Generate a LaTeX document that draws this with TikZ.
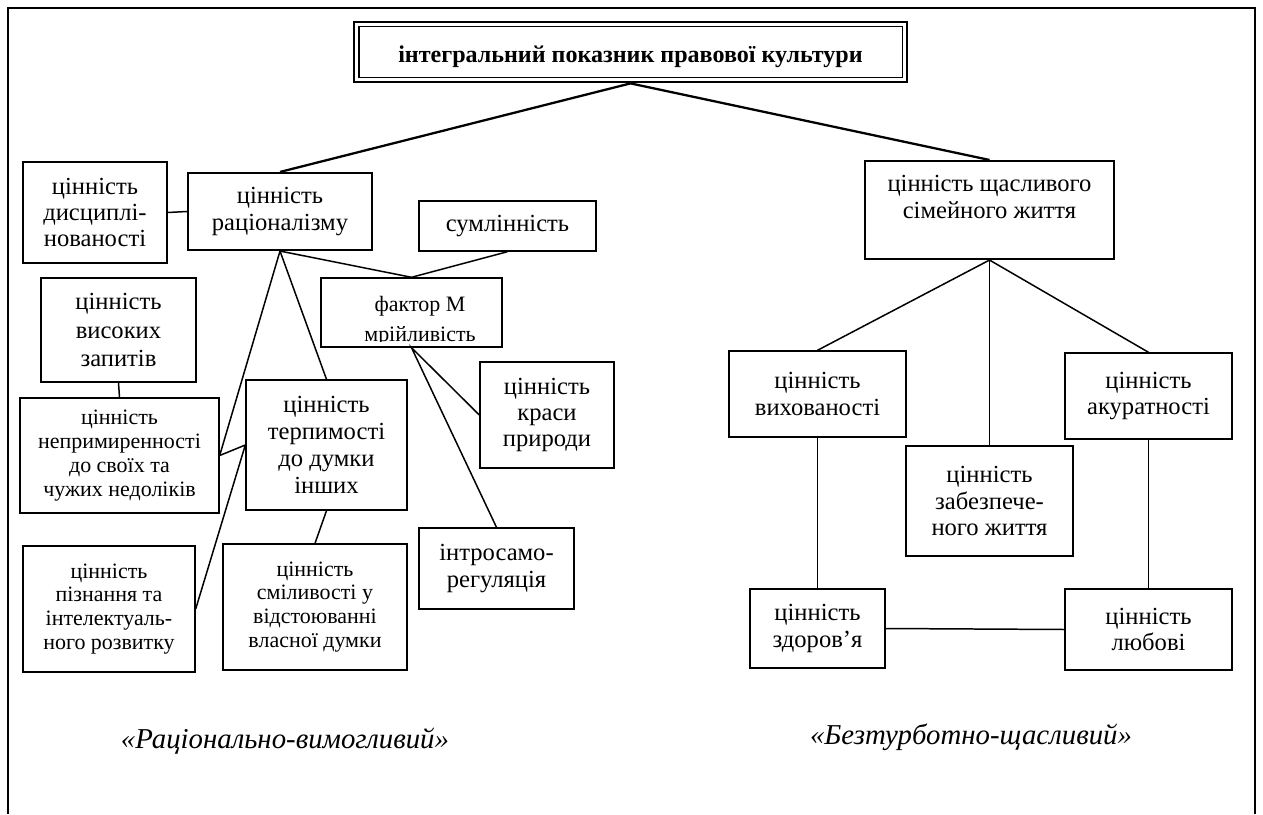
\documentclass[tikz,border=0pt]{standalone}
\usepackage{fontspec}
\setmainfont{Liberation Serif}

\begin{document}
\begin{tikzpicture}[x=0.02cm,y=-0.02cm,
  box/.style={draw,line width=0.8pt,align=center,inner sep=1pt,
    font=\fontsize{14}{15}\selectfont},
  smallbox/.style={box,font=\fontsize{12.5}{13.6}\selectfont},
  mainbox/.style={box,line width=1.2pt},
  link/.style={line width=0.85pt},
  toplink/.style={line width=1.3pt},
  typelabel/.style={font=\itshape\fontsize{16.4}{18}\selectfont}]
\useasboundingbox (0,0) rectangle (1263,814);
% frame, open at the bottom
\draw[line width=1.2pt] (8,814) -- (8,8) -- (1255,8) -- (1255,814);

% title with double border
\node[draw,line width=1.6pt,minimum width=11.06cm,minimum height=1.2cm,
  text height=12pt,text depth=0pt,
  font=\bfseries\fontsize{13.7}{15}\selectfont] (title) at (630.5,52)
  {інтегральний показник правової культури};
\draw[line width=0.8pt] ([shift={(3.5pt,-3.5pt)}]title.north west)
  rectangle ([shift={(-3.5pt,3.5pt)}]title.south east);

% left cluster
\node[mainbox,minimum width=3.68cm,minimum height=1.54cm] (rat) at (280,211.5)
  {цінність\\раціоналізму};
\node[box,minimum width=2.88cm,minimum height=2.02cm] (dys) at (95,212.5)
  {цінність\\дисциплі-\\нованості};
\node[box,minimum width=3.1cm,minimum height=2.08cm,
  font=\fontsize{14}{16}\selectfont] (vys) at (118.5,330)
  {цінність\\високих\\запитів};
\node[box,minimum width=3.54cm,minimum height=1cm] (sum) at (507.5,226)
  {сумлінність};
\node[box,minimum width=3.62cm,minimum height=1.38cm] (fak) at (411.5,312.5) {};
\begin{scope}
  \clip (321,278) rectangle (502,341);
  \node[align=center,inner sep=0pt,font=\fontsize{12.5}{17}\selectfont]
    (faktxt) at (420,321) {фактор М\\мрійливість};
\end{scope}
\node[box,minimum width=2.68cm,minimum height=2.12cm] (kra) at (547,415)
  {цінність\\краси\\природи};
\node[box,minimum width=3.1cm,minimum height=1.62cm] (intro) at (496.5,568.5)
  {інтросамо-\\регуляція};
\node[smallbox,minimum width=3.98cm,minimum height=2.3cm] (nepr) at (119.5,455.5)
  {цінність\\непримиренності\\до своїх та\\чужих недоліків};
\node[box,minimum width=3.22cm,minimum height=2.6cm,
  font=\fontsize{14}{15.5}\selectfont] (terp) at (326.5,445)
  {цінність\\терпимості\\до думки\\інших};
\node[smallbox,minimum width=3.44cm,minimum height=2.52cm] (pizn) at (109,609)
  {цінність\\пізнання та\\інтелектуаль-\\ного розвитку};
\node[smallbox,minimum width=3.68cm,minimum height=2.52cm] (smil) at (315,607)
  {цінність\\сміливості у\\відстоюванні\\власної думки};

% right cluster
\node[mainbox,minimum width=4.98cm,minimum height=1.96cm] (shch) at (989.5,210)
  {цінність щасливого\\сімейного життя\\\mbox{}};
\node[box,minimum width=3.54cm,minimum height=1.72cm] (vykh) at (817.5,394)
  {цінність\\вихованості};
\node[box,minimum width=3.34cm,minimum height=1.72cm] (akur) at (1148.5,396)
  {цінність\\акуратності};
\node[box,minimum width=3.34cm,minimum height=2.2cm] (zab) at (989.5,501)
  {цінність\\забезпече-\\ного життя};
\node[box,minimum width=2.7cm,minimum height=1.58cm] (zdor) at (817.5,628.5)
  {цінність\\здоров’я};
\node[box,minimum width=3.34cm,minimum height=1.62cm] (lyub) at (1148.5,629.5)
  {цінність\\любові};

% connectors
\draw[toplink] (rat.north) -- (title.south) -- (shch.north);
\draw[link] (dys.east) -- (rat.west);
\draw[link] (rat.south) -- (fak.north) -- (sum.south);
\draw[link] (rat.south) -- (terp.north);
\draw[link] (rat.south) -- (nepr.east) -- (terp.west) -- (pizn.east);
\draw[link] (vys.south) -- (nepr.north);
\draw[link] (terp.south) -- (smil.north);
\draw[link] (kra.west) -- (fak.south) -- (intro.north);
\draw[link] (vykh.north) -- (shch.south) -- (akur.north);
\draw[link] (shch.south) -- (zab.north);
\draw[link] (vykh.south) -- (zdor.north);
\draw[link] (akur.south) -- (lyub.north);
\draw[link] (zdor.east) -- (lyub.west);

% type labels
\node[typelabel] (ratlab) at (285,741) {«Раціонально-вимогливий»};
\node[typelabel] (bezlab) at (971,737) {«Безтурботно-щасливий»};
\end{tikzpicture}
\end{document}
